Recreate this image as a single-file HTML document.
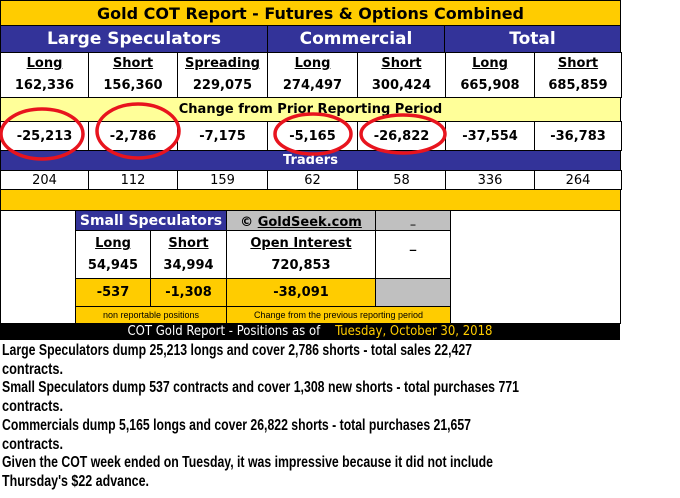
<!DOCTYPE html>
<html><head><meta charset="utf-8"><style>
*{margin:0;padding:0;box-sizing:border-box}
body{width:680px;height:498px;background:#fff;position:relative;overflow:hidden;font-family:"DejaVu Sans","Liberation Sans",sans-serif}
.c{position:absolute;display:flex;align-items:center;justify-content:center;text-align:center;font-weight:bold;color:#000;overflow:hidden;white-space:nowrap}
.b{border:1px solid #000}
.y{background:#FFCC00}.n{background:#333399;color:#fff}.ly{background:#FFFF99}.g{background:#C0C0C0}.w{background:#fff}
.u{text-decoration:underline}
.two{flex-direction:column;line-height:22px}
.line{position:absolute;left:2px;font:bold 16px "Liberation Sans",sans-serif;white-space:nowrap;transform-origin:0 0;color:#000}
</style></head><body>
<div class="c y b" style="left:0;top:0;width:621px;height:26px;font-size:16px">Gold COT Report - Futures &amp; Options Combined</div>
<div class="c n b" style="left:0;top:25px;width:268px;height:28px;font-size:17px">Large Speculators</div>
<div class="c n b" style="left:267px;top:25px;width:178px;height:28px;font-size:17px">Commercial</div>
<div class="c n b" style="left:444px;top:25px;width:177px;height:28px;font-size:17px">Total</div>
<div id="cols"></div>
<div class="c ly b" style="left:0;top:97px;width:621px;height:25px;font-size:13px">Change from Prior Reporting Period</div>
<div class="c n b" style="left:0;top:150px;width:621px;height:21px;font-size:13px">Traders</div>
<div class="c y b" style="left:0;top:189px;width:621px;height:22px"></div>
<div class="b" style="position:absolute;left:0;top:210px;width:621px;height:114px;background:#fff"></div>
<div class="c n b" style="left:75px;top:210px;width:152px;height:21px;font-size:14px">Small Speculators</div>
<div class="c g b" style="left:226px;top:210px;width:150px;height:21px;font-size:13px;padding-top:4px">©&nbsp;<span class="u">GoldSeek.com</span></div>
<div class="c g b" style="left:375px;top:210px;width:76px;height:21px;font-size:10px">_</div>
<div class="c w b two" style="left:75px;top:230px;width:76px;height:49px;font-size:13px"><span class="u">Long</span><span>54,945</span></div>
<div class="c w b two" style="left:150px;top:230px;width:77px;height:49px;font-size:13px"><span class="u">Short</span><span>34,994</span></div>
<div class="c w b two" style="left:226px;top:230px;width:150px;height:49px;font-size:13px"><span class="u">Open Interest</span><span>720,853</span></div>
<div class="c w b" style="left:375px;top:230px;width:76px;height:49px;font-size:13px;align-items:flex-start;padding-top:6px">_</div>
<div class="c y b" style="left:75px;top:278px;width:76px;height:29px;font-size:13px">-537</div>
<div class="c y b" style="left:150px;top:278px;width:77px;height:29px;font-size:13px">-1,308</div>
<div class="c y b" style="left:226px;top:278px;width:150px;height:29px;font-size:13px">-38,091</div>
<div class="c g b" style="left:375px;top:278px;width:76px;height:29px"></div>
<div class="c y b" style="left:75px;top:306px;width:152px;height:18px;font:9px 'Liberation Sans',sans-serif">non reportable positions</div>
<div class="c y b" style="left:226px;top:306px;width:225px;height:18px;font:9px 'Liberation Sans',sans-serif">Change from the previous reporting period</div>
<div class="c" style="left:0;top:323px;width:620px;height:17px;background:#000;color:#fff;font:13px 'DejaVu Sans Condensed','Liberation Sans',sans-serif">COT Gold Report - Positions as of&nbsp;&nbsp;&nbsp;&nbsp;<span style="color:#FFCC00">Tuesday, October 30, 2018</span></div>
<div id="txt"></div>
<svg width="680" height="498" style="position:absolute;left:0;top:0">
<g fill="none" stroke="#E8141E" stroke-width="3.5">
<ellipse cx="42" cy="134" rx="41" ry="25"/>
<ellipse cx="138" cy="131" rx="41" ry="27"/>
<ellipse cx="313" cy="134" rx="38" ry="20"/>
<ellipse cx="403" cy="134" rx="42" ry="19"/>
</g></svg>
<script>
const xs=[0,88,177,267,357,445,534,621];
const labels=['Long','Short','Spreading','Long','Short','Long','Short'];
const vals=['162,336','156,360','229,075','274,497','300,424','665,908','685,859'];
const chg=['-25,213','-2,786','-7,175','-5,165','-26,822','-37,554','-36,783'];
const trd=['204','112','159','62','58','336','264'];
const cols=document.getElementById('cols');
for(let i=0;i<7;i++){
  const w=xs[i+1]-xs[i]+1;
  let d=document.createElement('div');d.className='c w b two';
  
  
  d.style.cssText=`left:${xs[i]}px;top:52px;width:${w}px;height:46px;font-size:13px`;
  d.innerHTML=`<span class="u">${labels[i]}</span><span>${vals[i]}</span>`;cols.appendChild(d);
  d=document.createElement('div');d.className='c w b';
  
  
  d.style.cssText=`left:${xs[i]}px;top:121px;width:${w}px;height:30px;font-size:13px`;
  d.textContent=chg[i];cols.appendChild(d);
  d=document.createElement('div');d.className='c w b';
  
  
  d.style.cssText=`left:${xs[i]}px;top:170px;width:${w}px;height:20px;font:13px 'DejaVu Sans',sans-serif`;
  d.textContent=trd[i];cols.appendChild(d);
}
const lines=[["Large Speculators dump 25,213 longs and cover 2,786 shorts - total sales 22,427",470],["contracts.",61],["Small Speculators dump 537 contracts and cover  1,308 new shorts - total purchases 771",517],["contracts.",61],["Commercials dump 5,165 longs and cover 26,822 shorts - total purchases 21,657",469],["contracts.",61],["Given the COT week ended on Tuesday, it was impressive because it did not include",491],["Thursday's $22 advance.",147]];
const t=document.getElementById('txt');
lines.forEach((l,i)=>{const d=document.createElement('div');d.className='line';


d.style.top=(342+i*18.7)+'px';d.textContent=l[0];t.appendChild(d);
const w=d.getBoundingClientRect().width;d.style.transform=`scaleX(${l[1]/w})`;});
</script>
</body></html>
